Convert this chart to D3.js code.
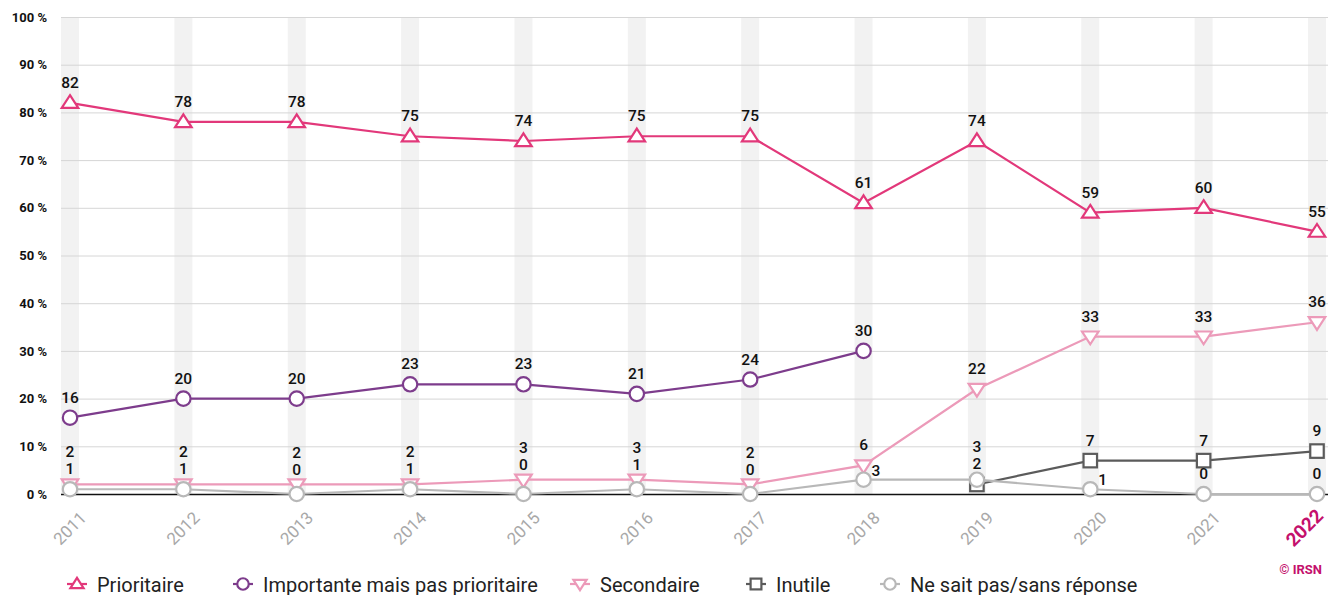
<!DOCTYPE html>
<html><head><meta charset="utf-8">
<script src="https://cdn.jsdelivr.net/npm/d3@7"></script>
<style>body{margin:0;background:#fff;font-family:Roboto,"Noto Sans",sans-serif}</style>
</head><body><svg id="c" width="1328" height="595"></svg>
<script>
const years = ["2011","2012","2013","2014","2015","2016","2017","2018","2019","2020","2021","2022"];
const yTicks = [0,10,20,30,40,50,60,70,80,90,100];
const prioritaire = [82,78,78,75,74,75,75,61,74,59,60,55];
const importante = [16,20,20,23,23,21,24,30,null,null,null,null];
const secondaire = [2,2,2,2,3,3,2,6,22,33,33,36];
const inutile = [null,null,null,null,null,null,null,null,2,7,7,9];
const nsp = [1,1,0,1,0,1,0,3,3,1,0,0];
const seriesNames = ["Prioritaire","Importante mais pas prioritaire","Secondaire","Inutile","Ne sait pas/sans réponse"];
const seriesColors = ["#e2387a","#7d3c8c","#ec9ab9","#5b5b5b","#b8b8b8"];
const seriesShapes = ["up","circle","down","square","circle"];
const seriesValues = [prioritaire, importante, secondaire, inutile, nsp];
// labels drawn beside (right of) their marker instead of above: [series index, year]
const sideLabels = [[4,"2018"],[4,"2020"]];

const svg = d3.select("#c");
const x = d3.scalePoint().domain(years).range([70, 1317]);
const y = d3.scaleLinear().domain([0,100]).range([494, 17]);
const bandW = 18;

svg.append("g").selectAll("rect").data(years).join("rect")
  .attr("x", d => x(d) - bandW/2).attr("y", y(100)).attr("width", bandW)
  .attr("height", y(0) - y(100)).attr("fill", "#f2f2f2");

const yAxis = d3.axisLeft(y).tickValues(yTicks).tickSize(-(1328 - 61)).tickFormat(d => d + " %");
const gy = svg.append("g").attr("transform", "translate(61,0)").call(yAxis);
gy.select(".domain").remove();
gy.selectAll(".tick line").attr("stroke", d => d === 0 ? "#111" : "#d6d6d6").attr("stroke-width", d => d === 0 ? 1.5 : 1);
gy.selectAll(".tick text").attr("x", -14).attr("fill", "#111").attr("font-size", 13)
  .attr("font-weight", 700).attr("font-family", "Roboto");

const xAxis = d3.axisBottom(x).tickSize(0);
const gx = svg.append("g").attr("transform", `translate(0,${y(0)})`).call(xAxis);
gx.select(".domain").remove();
gx.selectAll(".tick text")
  .attr("text-anchor", "end")
  .attr("transform", d => d === "2022" ? "translate(7,23) rotate(-45)" : "translate(17,25) rotate(-45)")
  .attr("x", 0).attr("y", 0).attr("dy", 0)
  .attr("font-family", "Roboto")
  .attr("font-size", d => d === "2022" ? 19 : 17)
  .attr("font-weight", d => d === "2022" ? 700 : 400)
  .attr("fill", d => d === "2022" ? "#c4106c" : "#a8a8a8");

function marker(g, shape, color, s) {
  if (shape === "circle") {
    g.append("circle").attr("r", s*0.48).attr("fill", "#fff").attr("stroke", color).attr("stroke-width", 2.2);
  } else if (shape === "square") {
    g.append("rect").attr("x", -s*0.45).attr("y", -s*0.45).attr("width", s*0.9).attr("height", s*0.9)
      .attr("fill", "#fff").attr("stroke", color).attr("stroke-width", 2.2);
  } else {
    const h = s*0.85, w = s*1.1, dir = shape === "up" ? 1 : -1;
    const pts = [[0, -dir*h*0.6],[w/2, dir*h*0.4],[-w/2, dir*h*0.4]];
    g.append("path").attr("d", "M" + pts.map(p => p.join(",")).join("L") + "Z")
      .attr("fill", "#fff").attr("stroke", color).attr("stroke-width", 2.2).attr("stroke-linejoin", "miter");
  }
}

const line = d3.line().defined(d => d.v !== null).x(d => x(d.year)).y(d => y(d.v));
seriesValues.forEach((vals, si) => {
  const data = years.map((yr, i) => ({year: yr, v: vals[i]}));
  svg.append("path").datum(data).attr("d", line).attr("fill", "none")
    .attr("stroke", seriesColors[si]).attr("stroke-width", 2.2);
  data.filter(d => d.v !== null).forEach(d => {
    const g = svg.append("g").attr("transform", `translate(${x(d.year)},${y(d.v)})`);
    marker(g, seriesShapes[si], seriesColors[si], 15);
  });
});

const labels = svg.append("g").attr("font-family", "Roboto").attr("font-size", 15.5)
  .attr("font-weight", 500).attr("fill", "#111");
const capH = 10, half = 7.5;
years.forEach((yr, i) => {
  const pts = seriesValues.map((vals, si) => ({si, v: vals[i]})).filter(p => p.v !== null);
  const sorted = pts.slice().sort((a, b) => a.v - b.v || b.si - a.si);
  let prev = Infinity;
  sorted.forEach(p => {
    const side = sideLabels.some(s => s[0] === p.si && s[1] === yr);
    if (side) {
      labels.append("text").attr("x", x(yr) + 8).attr("y", y(p.v) - 4).text(p.v);
    } else {
      let b = Math.min(y(p.v) - 15, prev - 17);
      // push above any other marker the label would overlap
      pts.forEach(o => {
        if (o.si === p.si) return;
        const top = y(o.v) - half, bot = y(o.v) + half;
        if (b > top && b - capH < bot) b = top - 2;
      });
      labels.append("text").attr("x", x(yr)).attr("y", b).attr("text-anchor", "middle").text(p.v);
      prev = b;
    }
  });
});

const legendX = [77, 243, 580, 756, 890];
seriesNames.forEach((name, si) => {
  const g = svg.append("g").attr("transform", `translate(${legendX[si]},584)`);
  g.append("line").attr("x1", -10).attr("x2", 10).attr("stroke", seriesColors[si]).attr("stroke-width", 2.2);
  marker(g, seriesShapes[si], seriesColors[si], 12);
  g.append("text").attr("x", 20).attr("y", 7.5).attr("font-family", "Roboto").attr("font-size", 20)
    .attr("fill", "#222").text(name);
});

svg.append("text").attr("x", 1322).attr("y", 574).attr("text-anchor", "end")
  .attr("font-family", "Roboto").attr("font-size", 13).attr("font-weight", 700)
  .attr("fill", "#c4106c").text("© IRSN");
</script></body></html>
